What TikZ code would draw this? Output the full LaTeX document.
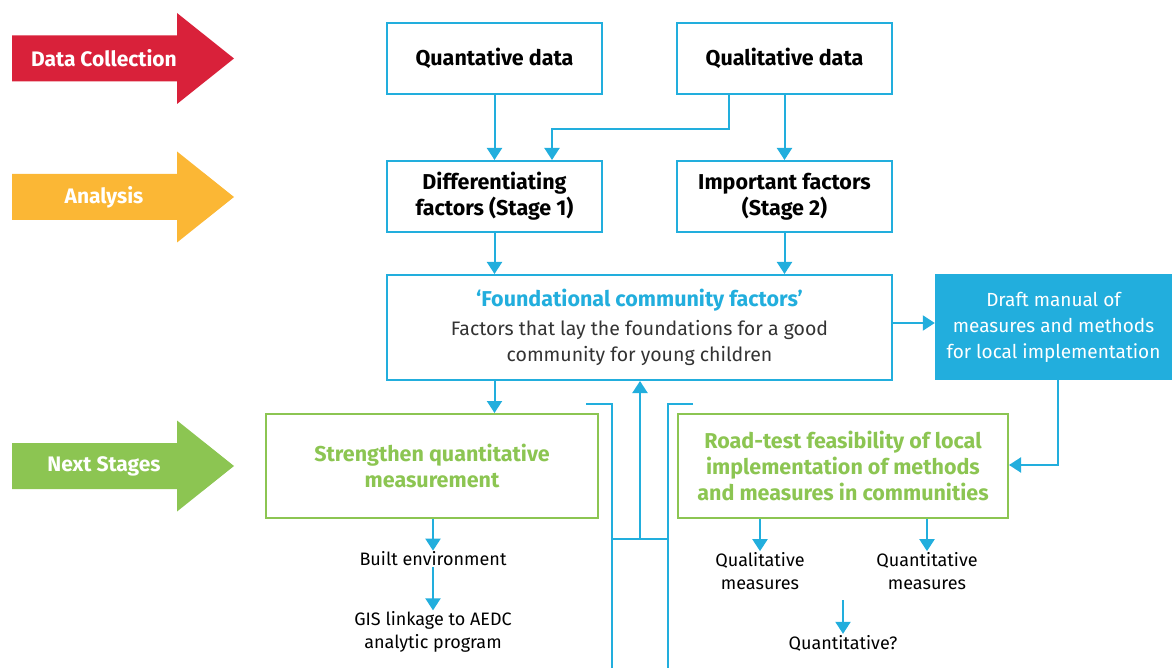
\documentclass[tikz,border=0pt]{standalone}
\usepackage{fontspec}
\setmainfont{Fira Sans}
\usepackage{tikz}
\usetikzlibrary{arrows.meta,positioning}
\definecolor{cblue}{HTML}{22AEDD}
\definecolor{cred}{HTML}{D9213A}
\definecolor{cyellow}{HTML}{FBB735}
\definecolor{cgreen}{HTML}{8CC552}
\definecolor{cdark}{HTML}{333333}
\tikzset{
 b/.style
  = {rectangle, draw=cblue, line width=2pt, minimum width=215, minimum height=71,
     align=center, font=\bfseries\fontsize{21.5}{26}\selectfont},
 g/.style
  = {rectangle, draw=cgreen, line width=2pt, minimum height=104,
     align=center, text=cgreen, font=\bfseries\fontsize{21.5}{26}\selectfont},
 t/.style
  = {inner sep=1pt, align=center, font=\fontsize{18}{23}\selectfont},
 st/.style
  = {text=white, font=\bfseries\fontsize{21}{24}\selectfont},
 l/.style
  = {draw=cblue, line width=2pt},
 ll/.style
  = {draw=cblue, line width=2pt, -{Triangle[width=15pt,length=12pt]}},
}
\newcommand{\stagearrow}[4]{%
 \fill[#2] (12,#1-23) -- (177,#1-23) -- (177,#1-45.5) -- (234,#1)
   -- (177,#1+45.5) -- (177,#1+23) -- (12,#1+23) -- cycle;
 \node[st] (#4) at (104,#1) {#3};}

\begin{document}
\begin{tikzpicture}[x=1pt,y=-1pt]
\useasboundingbox (0,0) rectangle (1172,668);

% Stage arrows
\stagearrow{58.5}{cred}{Data Collection}{collect}
\stagearrow{197}{cyellow}{Analysis}{analysis}
\stagearrow{466}{cgreen}{Next Stages}{next}

% Data boxes
\node[b] (quant) at (494.5,58.5) {Quantative data};
\node[b] (qual) at (784.5,58.5) {Qualitative data};
\node[b] (diff) at (494.5,196.5) {Differentiating\\factors (Stage 1)};
\node[b] (imp) at (784.5,196.5) {Important factors\\(Stage 2)};

% Foundational factors
\node[b, minimum width=505, minimum height=105] (found) at (639.5,327.5)
  {{\color{cblue}‘Foundational community factors’}\\[3pt]
   {\mdseries\color{cdark}\fontsize{19.5}{26}\selectfont Factors that lay the foundations for a good}\\
   {\mdseries\color{cdark}\fontsize{19.5}{26}\selectfont community for young children}};
\node[fill=cblue, minimum width=237, minimum height=106, align=center, text=white,
  font=\fontsize{19}{26}\selectfont] (draft) at (1053.5,327)
  {\rule{0pt}{4pt}Draft manual of\\measures and methods\\for local implementation};

% Next stages
\node[g, minimum width=332] (strength) at (432,466) {Strengthen quantitative\\measurement};
\node[g, minimum width=330] (road) at (843,466)
  {Road-test feasibility of local\\implementation of methods\\and measures in communities};
\node[t] (built) at (433,559) {Built environment};
\node[t] (gis) at (433,632) {GIS linkage to AEDC\\analytic program};
\node[t] (qlm) at (760,571) {Qualitative\\measures};
\node[t] (qnm) at (927,571) {Quantitative\\measures};
\node[t] (qq) at (843,643) {Quantitative?};
\coordinate (qqtop) at (843,600);
\coordinate (hub) at (640,539);

% Connectors
\draw[ll] (quant) -- (diff);
\draw[ll] ([xshift=-56]qual.south) -- ++(0,34) -| ([xshift=57.5]diff.north);
\draw[ll] (qual) -- (imp);
\draw[ll] (diff.south) -- (diff.south |- found.north);
\draw[ll] (imp.south) -- (imp.south |- found.north);
\draw[ll] ([yshift=4.5]found.east) -- ([yshift=4.5]found.east -| draft.west);
\draw[ll] ([xshift=4]draft.south) |- ([yshift=1]road.east);
\draw[ll] (found.south -| diff.south) -- (strength.north -| diff.south);
\draw[ll] (strength.south -| built) -- (built.north);
\draw[ll] (built) -- (gis);
\draw[ll] (road.south -| qlm) -- (qlm.north);
\draw[ll] (road.south -| qnm) -- (qnm.north);
\draw[ll] (qqtop) -- (qq.north);

% Bracket lines
\draw[l] (586,404) -- (612,404) -- (612,668);
\draw[l] (693,404) -- (668,404) -- (668,668);
\draw[l] (612,539) -- (668,539);
\draw[ll] (hub) -- (hub |- found.south);

\end{tikzpicture}
\end{document}
